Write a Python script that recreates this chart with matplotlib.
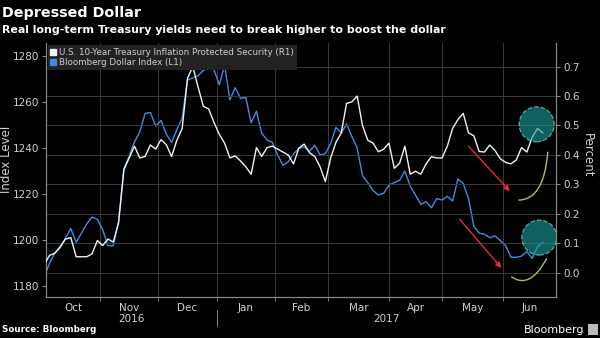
import matplotlib
matplotlib.use("Agg")
import matplotlib.pyplot as plt
import numpy as np
import pandas as pd
from matplotlib.lines import Line2D
from matplotlib.patches import Ellipse, PathPatch, FancyArrowPatch
from matplotlib.path import Path

# every second business day from 2016-10-03
start_date = "2016-10-03"
n_days = 190

dollar_index = [
    1184, 1190, 1194.5, 1196.5, 1201, 1205, 1199, 1203, 1207, 1210,
    1209, 1204.5, 1197.5, 1197.5, 1208, 1231, 1236.5, 1242.7, 1247, 1255,
    1255.5, 1249.5, 1252, 1246, 1242.5, 1248, 1253, 1269.6, 1270.5, 1271.5,
    1273.8, 1275, 1274, 1267.6, 1276, 1261, 1266.3, 1261.6, 1262, 1251,
    1256, 1246.5, 1243.5, 1242.5, 1237, 1232.5, 1234, 1237.5, 1239.8, 1240.5,
    1238.5, 1241.2, 1237, 1237.5, 1242, 1249, 1246.5, 1250.5, 1245, 1240,
    1228, 1225, 1221.5, 1219.6, 1220.3, 1223.9, 1225, 1226, 1230, 1223.5,
    1219.5, 1215.5, 1216.7, 1214, 1218, 1217.4, 1219, 1217, 1226.5, 1224.5,
    1218, 1206, 1203, 1202.5, 1201, 1201.8, 1199.8, 1197.5, 1192.5, 1192.5,
    1193, 1195, 1192, 1197, 1199,
]

tips_yield = [
    0.03, 0.06, 0.067, 0.09, 0.115, 0.12, 0.055, 0.055, 0.055, 0.065,
    0.11, 0.093, 0.115, 0.105, 0.17, 0.35, 0.39, 0.43, 0.39, 0.395,
    0.434, 0.42, 0.452, 0.435, 0.395, 0.45, 0.49, 0.66, 0.70, 0.63,
    0.565, 0.556, 0.51, 0.47, 0.44, 0.39, 0.397, 0.38, 0.36, 0.335,
    0.425, 0.395, 0.425, 0.43, 0.42, 0.41, 0.40, 0.37, 0.423, 0.437,
    0.408, 0.395, 0.36, 0.31, 0.39, 0.443, 0.475, 0.575, 0.58, 0.60,
    0.50, 0.45, 0.44, 0.411, 0.42, 0.44, 0.355, 0.372, 0.43, 0.335,
    0.345, 0.335, 0.37, 0.394, 0.39, 0.39, 0.43, 0.49, 0.52, 0.541,
    0.475, 0.465, 0.412, 0.41, 0.434, 0.415, 0.387, 0.375, 0.37, 0.383,
    0.425, 0.41, 0.46, 0.49, 0.475,
]

left_ticks = [1180, 1200, 1220, 1240, 1260, 1280]
right_ticks = [0.0, 0.1, 0.2, 0.3, 0.4, 0.5, 0.6, 0.7]

BG = "black"
GRID = "#3a3a3a"
TXT = "#d0d0d0"
BLUE = "#3f8de0"
WHITE = "#f2f2f2"

days = pd.bdate_range(start_date, periods=n_days)
pos = np.arange(n_days)
x = pos[::2][:len(dollar_index)]
x_lo, x_hi = 0.64, 193.0

fig = plt.figure(figsize=(6, 3.38), dpi=100, facecolor=BG)
ax = fig.add_axes([0.0767, 0.1213, 0.85, 0.7515], facecolor=BG)
ax2 = ax.twinx()

ax.plot(x, dollar_index, color=BLUE, lw=1.0, zorder=3)
ax2.plot(x, tips_yield, color=WHITE, lw=1.0, zorder=3)

ax.set_xlim(x_lo, x_hi)
ax.set_ylim(1175.2, 1285.7)
ax2.set_ylim(-0.0814, 0.7797)
ax.set_yticks(left_ticks)
ax2.set_yticks(right_ticks)
ax2.set_yticklabels([f"{v:.1f}" for v in right_ticks])

# month boundaries and centred month labels
month = days.month
bounds = [i for i in range(1, n_days) if month[i] != month[i - 1]]
edges = [x_lo] + bounds + [x_hi]
centers = [(a + b) / 2 for a, b in zip(edges[:-1], edges[1:])]
labels = [days[min(int(c), n_days - 1)].strftime("%b") for c in centers]
ax.set_xticks(bounds, minor=True)
ax.set_xticks(centers)
ax.set_xticklabels(labels)
ax.tick_params(axis="x", which="major", length=0, pad=4, colors=TXT, labelsize=7.5)
ax.tick_params(axis="x", which="minor", length=3, color="#888888")
ax.tick_params(axis="y", length=3, color="#888888", colors=TXT, labelsize=7.5, pad=2)
ax2.tick_params(axis="y", length=3, color="#888888", colors=TXT, labelsize=7.5, pad=2)

# grid: verticals at month edges, horizontals at right ticks
for b in bounds:
    ax.axvline(b, color=GRID, lw=0.7, zorder=0)
for v in right_ticks:
    ax2.axhline(v, color=GRID, lw=0.7, zorder=0)

for a in (ax, ax2):
    a.spines["top"].set_visible(False)
    for s in ("left", "right", "bottom"):
        a.spines[s].set_color("#888888")
        a.spines[s].set_linewidth(0.8)
ax2.set_zorder(ax.get_zorder() + 1)
ax2.patch.set_visible(False)

ax.set_ylabel("Index Level", color=TXT, fontsize=8.5)
ax.yaxis.set_label_coords(-0.064, 0.54)
ax2.set_ylabel("Percent", color=TXT, fontsize=8.5, rotation=270)
ax2.yaxis.set_label_coords(1.075, 0.56)

# year row
new_year = bounds[labels.index("Jan") - 1]
xt = ax.get_xaxis_transform()
ax.text((x_lo + new_year) / 2, -0.085, "2016", transform=xt,
        ha="center", va="center", color=TXT, fontsize=7.5)
ax.text((new_year + x_hi) / 2, -0.085, "2017", transform=xt,
        ha="center", va="center", color=TXT, fontsize=7.5)
ax.plot([new_year, new_year], [-0.05, -0.115], transform=xt,
        color="#888888", lw=0.7, clip_on=False)

# legend
handles = [
    Line2D([], [], marker="s", ls="none", color=WHITE, markersize=5),
    Line2D([], [], marker="s", ls="none", color=BLUE, markersize=5),
]
leg = ax2.legend(handles, ["U.S. 10-Year Treasury Inflation Protected Security (R1)",
                           "Bloomberg Dollar Index (L1)"],
                 loc="upper left", bbox_to_anchor=(0.0, 1.0), fontsize=6.3,
                 frameon=True, facecolor="#222222", edgecolor="none", framealpha=1,
                 handlelength=0.6, handletextpad=0.3, borderpad=0.35,
                 labelspacing=0.1, fancybox=False, borderaxespad=0.2)
for t in leg.get_texts():
    t.set_color(TXT)
leg.set_zorder(10)

# annotations (right-axis coordinates)
for cx, cy in [(185.7, 0.504), (186.7, 0.12)]:
    ax2.add_patch(Ellipse((cx, cy), 13.2, 0.1186, facecolor="#1a9c9c", alpha=0.62,
                          edgecolor="#8fe8e8", lw=0.9, ls="--", zorder=6))
for (x0, y0), (x1, y1) in [((159.3, 0.437), (176.3, 0.27)), ((155.9, 0.19), (173.1, 0.01))]:
    ax2.add_patch(FancyArrowPatch((x0, y0), (x1, y1), arrowstyle="-|>", mutation_scale=8,
                                  color="#e8283c", lw=1.0, zorder=7))
for pts in [[(178.8, 0.247), (188.5, 0.247), (189.9, 0.411)],
            [(176.1, -0.0125), (183.2, -0.058), (189.5, 0.05)]]:
    path = Path(pts, [Path.MOVETO, Path.CURVE3, Path.CURVE3])
    ax2.add_patch(PathPatch(path, facecolor="none", edgecolor="#a8c83a", lw=1.0, zorder=7))

fig.text(0.004, 0.963, "Depressed Dollar", color="white", fontsize=10.3,
         fontweight="bold", va="center", ha="left")
fig.text(0.004, 0.911, "Real long-term Treasury yields need to break higher to boost the dollar",
         color="white", fontsize=7.9, fontweight="bold", va="center", ha="left")
fig.text(0.004, 0.024, "Source: Bloomberg", color="white", fontsize=6.3,
         fontweight="bold", va="center", ha="left")
fig.text(0.974, 0.024, "Bloomberg", color="white", fontsize=8, va="center", ha="right")
fig.patches.append(plt.Rectangle((0.98, 0.01), 0.016, 0.03, transform=fig.transFigure,
                                 facecolor="#bbbbbb", edgecolor="none"))

fig.savefig("out.png", dpi=100, facecolor=BG)
